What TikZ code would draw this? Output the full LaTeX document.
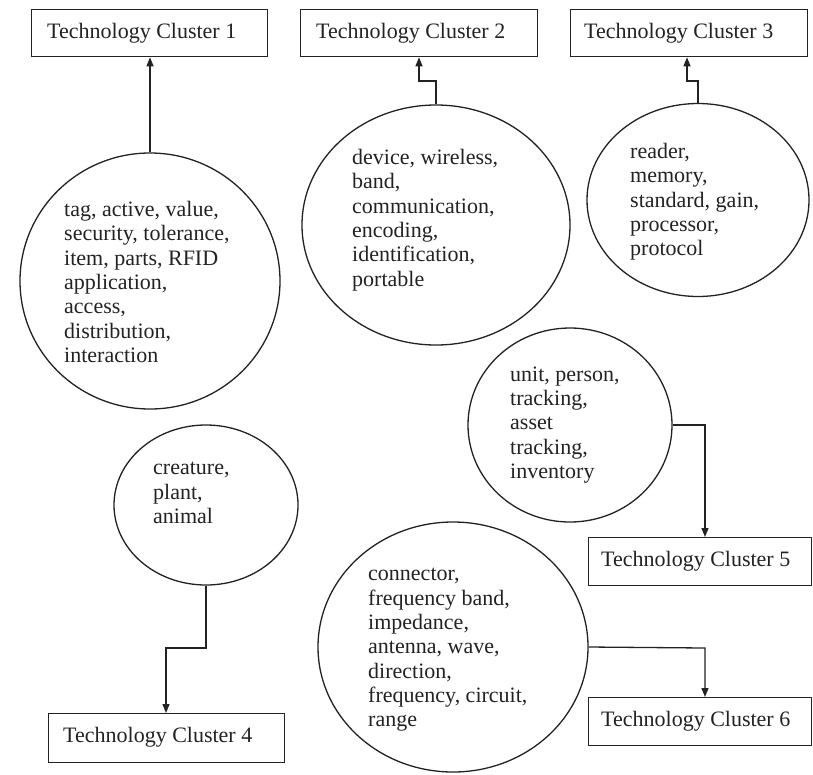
\documentclass[tikz,border=0pt]{standalone}
\usepackage{fontspec}
\setmainfont{Liberation Serif}
\usetikzlibrary{shapes.geometric,arrows.meta}
\definecolor{ink}{HTML}{222222}
\tikzset{
  lw/.style={line width=1.3pt, draw=ink},
  ell/.style={lw, ellipse, inner sep=0pt},
  words/.style={anchor=west, align=left, inner sep=0pt, text=ink,
    font=\fontsize{22}{24.3}\selectfont},
  tcbox/.style={lw, rectangle, anchor=north west, inner sep=0pt},
  tclabel/.style={anchor=west, text=ink, inner sep=0pt,
    font=\fontsize{22}{24.3}\selectfont},
  arr/.style={lw, -{Triangle[length=9pt,width=7pt]}},
}
\begin{document}
\begin{tikzpicture}[x=1pt,y=-1pt]
\useasboundingbox (0,0) rectangle (813,774);

% boxes
\node[tcbox, minimum width=236pt, minimum height=47pt] (t1) at (31,9) {};
\node[tclabel] (t1l) at (47,33) {Technology Cluster 1};
\node[tcbox, minimum width=237pt, minimum height=47pt] (t2) at (300,9) {};
\node[tclabel] (t2l) at (316,33) {Technology Cluster 2};
\node[tcbox, minimum width=237pt, minimum height=47pt] (t3) at (570,9) {};
\node[tclabel] (t3l) at (584,33) {Technology Cluster 3};
\node[tcbox, minimum width=223pt, minimum height=48pt] (t5) at (588,537) {};
\node[tclabel] (t5l) at (601,561) {Technology Cluster 5};
\node[tcbox, minimum width=223pt, minimum height=48pt] (t6) at (588,697) {};
\node[tclabel] (t6l) at (601,721) {Technology Cluster 6};
\node[tcbox, minimum width=236pt, minimum height=49pt] (t4) at (48,713) {};
\node[tclabel] (t4l) at (63,737) {Technology Cluster 4};

% ellipses
\node[ell, minimum width=260pt, minimum height=256pt] (c1) at (150,281) {};
\node[words] (c1t) at (64,282) {tag, active, value,\\security, tolerance,\\item, parts, RFID\\application,\\access,\\distribution,\\interaction};

\node[ell, minimum width=268pt, minimum height=240pt] (c2) at (436,225) {};
\node[words] (c2t) at (352,220) {device, wireless,\\band,\\communication,\\encoding,\\identification,\\portable};

\node[ell, minimum width=222pt, minimum height=193pt] (c3) at (698,200) {};
\node[words] (c3t) at (630,202) {reader,\\memory,\\standard, gain,\\processor,\\protocol};

\node[ell, minimum width=184pt, minimum height=160pt] (c4) at (206,505) {};
\node[words] (c4t) at (153,493) {creature,\\plant,\\animal};

\node[ell, minimum width=204pt, minimum height=194pt] (c5) at (570,425) {};
\node[words] (c5t) at (510,425) {unit, person,\\tracking,\\asset\\tracking,\\inventory};

\node[ell, minimum width=270pt, minimum height=250pt] (c6) at (453,647) {};
\node[words] (c6t) at (368,650) {connector,\\frequency band,\\impedance,\\antenna, wave,\\direction,\\frequency, circuit,\\range};

% bend points
\coordinate (k2) at (419,81);
\coordinate (k3) at (687,81);
\coordinate (k4) at (166,648);
\coordinate (k5) at (705,425);
\coordinate (k6) at (705,648);

% connectors
\draw[arr] (c1.north) -- (c1.north |- t1.south);
\draw[arr] (c2.north) |- (k2) -- (k2 |- t2.south);
\draw[arr] (c3.north) |- (k3) -- (k3 |- t3.south);
\draw[arr] (c4.south) |- (k4) -- (k4 |- t4.north);
\draw[arr] (c5.east) -- (k5) -- (k5 |- t5.north);
\draw[arr] (c6.east) -- (k6) -- (k6 |- t6.north);
\end{tikzpicture}
\end{document}
